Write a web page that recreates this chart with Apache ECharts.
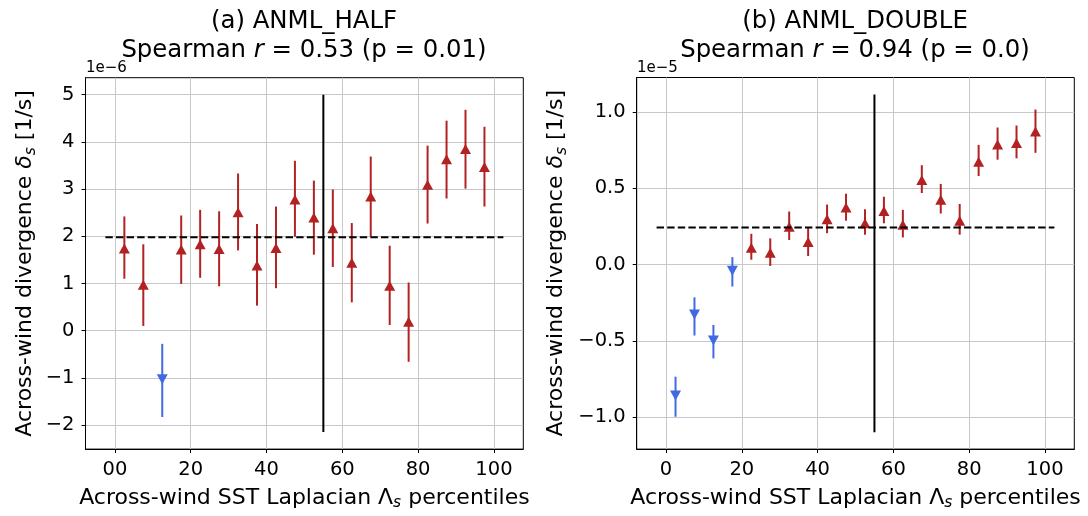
<!DOCTYPE html>
<html>
<head>
<meta charset="utf-8">
<script src="https://cdn.jsdelivr.net/npm/echarts@6/dist/echarts.min.js"></script>
<style>
  html, body { margin: 0; padding: 0; background: #fff; }
  #main { width: 1088px; height: 516px; }
</style>
</head>
<body>
<div id="main"></div>
<script>
// percentile bin centres (x)
const percentiles = [2.5, 7.5, 12.5, 17.5, 22.5, 27.5, 32.5, 37.5, 42.5, 47.5,
                     52.5, 57.5, 62.5, 67.5, 72.5, 77.5, 82.5, 87.5, 92.5, 97.5];

// (a) ANML_HALF, units of 1e-6
const halfMean = [1.74, 0.97, -1.03, 1.72, 1.83, 1.73, 2.51, 1.38, 1.75, 2.78,
                  2.40, 2.17, 1.44, 2.84, 0.95, 0.19, 3.09, 3.63, 3.85, 3.47];
const halfLow  = [1.10, 0.10, -1.83, 0.99, 1.12, 0.94, 1.70, 0.53, 0.90, 1.99,
                  1.61, 1.35, 0.60, 1.99, 0.12, -0.66, 2.27, 2.80, 3.01, 2.63];
const halfHigh = [2.42, 1.83, -0.28, 2.44, 2.56, 2.53, 3.33, 2.26, 2.63, 3.60,
                  3.18, 2.99, 2.28, 3.69, 1.80, 1.02, 3.92, 4.45, 4.68, 4.32];
const halfRef = 1.98;           // dashed horizontal line
const halfSplit = [-2.15, 5.0]; // vertical line at 55th percentile

// (b) ANML_DOUBLE, units of 1e-5
const doubleMean = [-0.858, -0.327, -0.497, -0.041, 0.110, 0.077, 0.249, 0.148, 0.297, 0.374,
                    0.271, 0.351, 0.262, 0.555, 0.426, 0.288, 0.675, 0.787, 0.798, 0.873];
const doubleLow  = [-0.998, -0.465, -0.615, -0.144, 0.032, -0.009, 0.161, 0.056, 0.206, 0.288,
                    0.196, 0.271, 0.178, 0.469, 0.335, 0.196, 0.581, 0.688, 0.697, 0.733];
const doubleHigh = [-0.735, -0.215, -0.396, 0.049, 0.202, 0.172, 0.348, 0.239, 0.394, 0.465,
                    0.363, 0.445, 0.359, 0.652, 0.529, 0.398, 0.785, 0.899, 0.912, 1.017];
const doubleRef = 0.243;
const doubleSplit = [-1.10, 1.116];

const splitPct = 55;
const refSpan = [-2.5, 102.5];

// tick labels
const xTickValues = [0, 20, 40, 60, 80, 100];
const xTickLabelsA = ['00', '20', '40', '60', '80', '100'];
const xTickLabelsB = ['0', '20', '40', '60', '80', '100'];
const yTickValuesA = [-2, -1, 0, 1, 2, 3, 4, 5];
const yTickValuesB = [-1.0, -0.5, 0.0, 0.5, 1.0];

const RED = '#b22222';
const BLUE = '#4169e1';
const FONT = 'DejaVu Sans';

const chart = echarts.init(document.getElementById('main'));

function minus(s) { return s.replace('-', '\u2212'); }

function xAxisFor(gridIndex, labels) {
  return {
    type: 'value', gridIndex: gridIndex, min: -7.75, max: 107.75, splitNumber: 5,
    axisLine: { show: true, onZero: false, lineStyle: { color: '#000', width: 1 } },
    axisTick: { show: true, length: 4, lineStyle: { color: '#000' }, customValues: xTickValues },
    axisLabel: {
      color: '#000', fontFamily: FONT, fontSize: 19.5, margin: 11,
      customValues: xTickValues,
      formatter: function (v) {
        const i = Math.round(v / 20);
        if (Math.abs(v - i * 20) > 1e-6 || i < 0 || i >= labels.length) return '';
        return labels[i];
      }
    },
    splitLine: { show: true, lineStyle: { color: '#c8c8c8', width: 1 } },
    name: 'Across-wind SST Laplacian {L|\u039b}{s|s} percentiles',
    nameLocation: 'middle', nameGap: 27,
    nameTextStyle: {
      color: '#000', fontFamily: FONT, fontSize: 22, lineHeight: 26,
      rich: {
        L: { fontFamily: FONT, fontSize: 22, color: '#000', lineHeight: 26 },
        s: { fontFamily: FONT, fontSize: 15.5, fontStyle: 'italic', color: '#000', lineHeight: 15, verticalAlign: 'bottom' }
      }
    }
  };
}

function yAxisFor(gridIndex, min, max, splitNumber, ticks, fmt, nameGap) {
  return {
    type: 'value', gridIndex: gridIndex, min: min, max: max, splitNumber: splitNumber,
    axisLine: { show: true, onZero: false, lineStyle: { color: '#000', width: 1 } },
    axisTick: { show: true, length: 4, lineStyle: { color: '#000' }, customValues: ticks },
    axisLabel: { color: '#000', fontFamily: FONT, fontSize: 19.5, margin: 11, customValues: ticks, formatter: fmt },
    splitLine: { show: true, lineStyle: { color: '#c8c8c8', width: 1 } },
    name: 'Across-wind divergence {g|\u03b4}{s|s} [1/s]',
    nameLocation: 'middle', nameGap: nameGap,
    nameTextStyle: {
      color: '#000', fontFamily: FONT, fontSize: 22, lineHeight: 26,
      rich: {
        g: { fontFamily: FONT, fontSize: 22, fontStyle: 'italic', color: '#000', lineHeight: 26 },
        s: { fontFamily: FONT, fontSize: 15.5, fontStyle: 'italic', color: '#000', lineHeight: 15, verticalAlign: 'bottom' }
      }
    }
  };
}

const fmtA = function (v) {
  const r = Math.round(v);
  if (Math.abs(v - r) > 1e-6) return '';
  return minus(String(r));
};
const fmtB = function (v) {
  const r = Math.round(v * 2);
  if (Math.abs(v * 2 - r) > 1e-6) return '';
  return minus((r / 2).toFixed(1));
};

function errorBars(idx, mean, lo, hi) {
  return {
    type: 'custom', xAxisIndex: idx, yAxisIndex: idx, silent: true, z: 2,
    data: percentiles.map((x, i) => [x, lo[i], hi[i], mean[i]]),
    renderItem: function (params, api) {
      const p1 = api.coord([api.value(0), api.value(1)]);
      const p2 = api.coord([api.value(0), api.value(2)]);
      return {
        type: 'line',
        shape: { x1: p1[0], y1: p1[1], x2: p2[0], y2: p2[1] },
        style: { stroke: api.value(3) < 0 ? BLUE : RED, lineWidth: 2 }
      };
    }
  };
}

function markers(idx, mean) {
  const up = [], down = [];
  percentiles.forEach((x, i) => { (mean[i] < 0 ? down : up).push([x, mean[i]]); });
  return [
    { type: 'scatter', xAxisIndex: idx, yAxisIndex: idx, data: up, symbol: 'triangle',
      symbolSize: [11, 10], itemStyle: { color: RED, opacity: 1 }, z: 3 },
    { type: 'scatter', xAxisIndex: idx, yAxisIndex: idx, data: down, symbol: 'triangle',
      symbolRotate: 180, symbolSize: [11, 10], itemStyle: { color: BLUE, opacity: 1 }, z: 3 }
  ];
}

function refLines(idx, ref, split) {
  return [
    { type: 'line', xAxisIndex: idx, yAxisIndex: idx, symbol: 'none', z: 4,
      data: [[refSpan[0], ref], [refSpan[1], ref]],
      lineStyle: { color: '#000', width: 2, type: [7.4, 3.2] } },
    { type: 'line', xAxisIndex: idx, yAxisIndex: idx, symbol: 'none', z: 4,
      data: [[splitPct, split[0]], [splitPct, split[1]]],
      lineStyle: { color: '#000', width: 2 } }
  ];
}

const titleRich = {
  t: { fontFamily: FONT, fontSize: 24.4, fontWeight: 'normal', color: '#000', lineHeight: 29 },
  i: { fontFamily: FONT, fontSize: 24.4, fontWeight: 'normal', fontStyle: 'italic', color: '#000', lineHeight: 29 }
};
const offsetStyle = { fontFamily: FONT, fontSize: 15, fontWeight: 'normal', color: '#000', lineHeight: 15 };

chart.setOption({
  animation: false,
  backgroundColor: '#fff',
  title: [
    { text: '{t|(a) ANML_HALF}\n{t|Spearman }{i|r}{t| = 0.53 (p = 0.01)}', left: 304, top: 7, padding: 0,
      textAlign: 'center', textStyle: { fontWeight: 'normal', rich: titleRich } },
    { text: '{t|(b) ANML_DOUBLE}\n{t|Spearman }{i|r}{t| = 0.94 (p = 0.0)}', left: 855, top: 7, padding: 0,
      textAlign: 'center', textStyle: { fontWeight: 'normal', rich: titleRich } },
    { text: '1e\u22126', left: 86, top: 61, padding: 0, textStyle: offsetStyle },
    { text: '1e\u22125', left: 637, top: 61, padding: 0, textStyle: offsetStyle }
  ],
  grid: [
    { left: 85.5, right: 564.7, top: 77.7, bottom: 61, show: true, borderColor: '#000', borderWidth: 1, containLabel: false },
    { left: 636.7, right: 13.7, top: 77.5, bottom: 61, show: true, borderColor: '#000', borderWidth: 1, containLabel: false }
  ],
  xAxis: [xAxisFor(0, xTickLabelsA), xAxisFor(1, xTickLabelsB)],
  yAxis: [
    yAxisFor(0, -2.51, 5.36, 8, yTickValuesA, fmtA, 47),
    yAxisFor(1, -1.21, 1.227, 5, yTickValuesB, fmtB, 67)
  ],
  series: [].concat(
    [errorBars(0, halfMean, halfLow, halfHigh)],
    markers(0, halfMean),
    refLines(0, halfRef, halfSplit),
    [errorBars(1, doubleMean, doubleLow, doubleHigh)],
    markers(1, doubleMean),
    refLines(1, doubleRef, doubleSplit)
  )
});
</script>
</body>
</html>
